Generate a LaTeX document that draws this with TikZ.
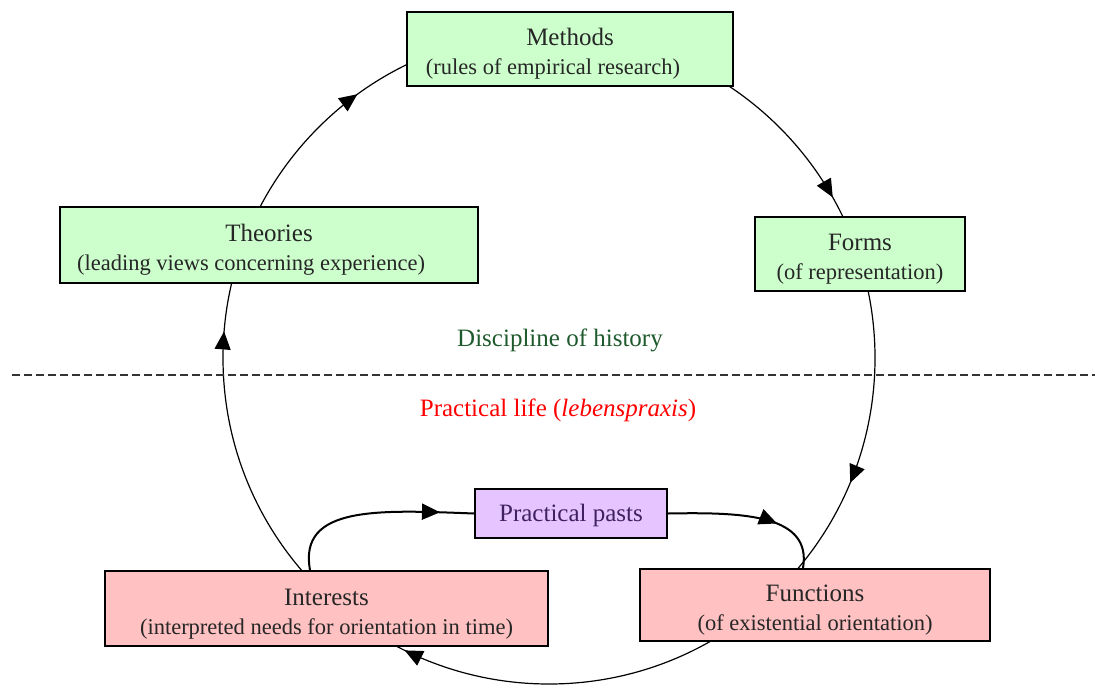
\documentclass[tikz,border=0pt]{standalone}
\usepackage{fontspec}
\setmainfont{Liberation Serif}
\usetikzlibrary{arrows.meta,decorations.markings}

\definecolor{stagegreen}{RGB}{204,255,204}
\definecolor{lifepink}{RGB}{255,193,193}
\definecolor{pastviolet}{RGB}{230,196,255}
\definecolor{histgreen}{RGB}{31,90,45}
\definecolor{pastink}{RGB}{64,32,96}
\newcommand{\gloss}[1]{{\fontsize{11.25}{14.5}\selectfont #1}}

\begin{document}
\begin{tikzpicture}[x=0.5pt, y=0.5pt,
    font=\fontsize{12.5}{14.5}\selectfont,
    box/.style={draw, line width=1pt, inner sep=0pt, align=center, text=black!85},
    stage/.style={box, text height=28pt, text depth=2.5pt},
    disc/.style={stage, fill=stagegreen},
    life/.style={stage, fill=lifepink},
    cyclehead/.tip={Triangle[length=9pt, width=8pt]},
    flow/.style={line width=1pt, postaction={decorate},
      decoration={markings, mark=at position #1 with {\arrow{cyclehead}}}}
  ]
  \useasboundingbox (0,0) rectangle (1095,-689);
  % the cycle of historical thinking
  \coordinate (hub) at (549,-358);
  \draw[line width=0.6pt, postaction={decorate},
    decoration={markings,
      mark=at position 0.082 with {\arrowreversed{cyclehead}},
      mark=at position 0.350 with {\arrowreversed{cyclehead}},
      mark=at position 0.487 with {\arrowreversed{cyclehead}},
      mark=at position 0.677 with {\arrowreversed{cyclehead}},
      mark=at position 0.9375 with {\arrowreversed{cyclehead}}}]
    (hub) circle[radius=163pt];
  % border between discipline and practical life
  \draw[dash pattern=on 4pt off 2pt, line width=0.75pt, black!80] (12,-375) -- (1095,-375);
  \node[text=histgreen] (discipline) at (560,-340) {Discipline of history};
  \node[text=red] (praxis) at (558,-410) {Practical life (\textit{lebenspraxis})};
  % the five stages
  \node[disc, minimum width=163pt, minimum height=37pt] (methods) at (570,-49)
    {Methods\\\gloss{(rules of empirical research)\hspace*{17pt}}};
  \node[disc, minimum width=105pt, minimum height=37pt] (forms) at (860,-254)
    {Forms\\\gloss{(of representation)}};
  \node[disc, minimum width=209pt, minimum height=38pt] (theories) at (269,-245)
    {Theories\\\gloss{(leading views concerning experience)\hspace*{18pt}}};
  \node[life, minimum width=221.5pt, minimum height=37.5pt] (interests) at (326.5,-608.5)
    {Interests\\\gloss{(interpreted needs for orientation in time)}};
  \node[life, minimum width=175pt, minimum height=36pt] (functions) at (815,-605)
    {Functions\\\gloss{(of existential orientation)}};
  % practical pasts and its loop
  \node[box, fill=pastviolet, text=pastink, text height=10.5pt, text depth=2.4pt,
    minimum width=96pt, minimum height=24.5pt] (pasts) at (571,-513.5)
    {Practical pasts};
  \draw[flow=0.83] (interests.north -| 310,0) .. controls (298,-505) and (380,-510) .. (pasts.west);
  \draw[flow=0.66] (pasts.east) .. controls (745,-512) and (812,-515) .. (functions.north -| 803,0);
\end{tikzpicture}
\end{document}
